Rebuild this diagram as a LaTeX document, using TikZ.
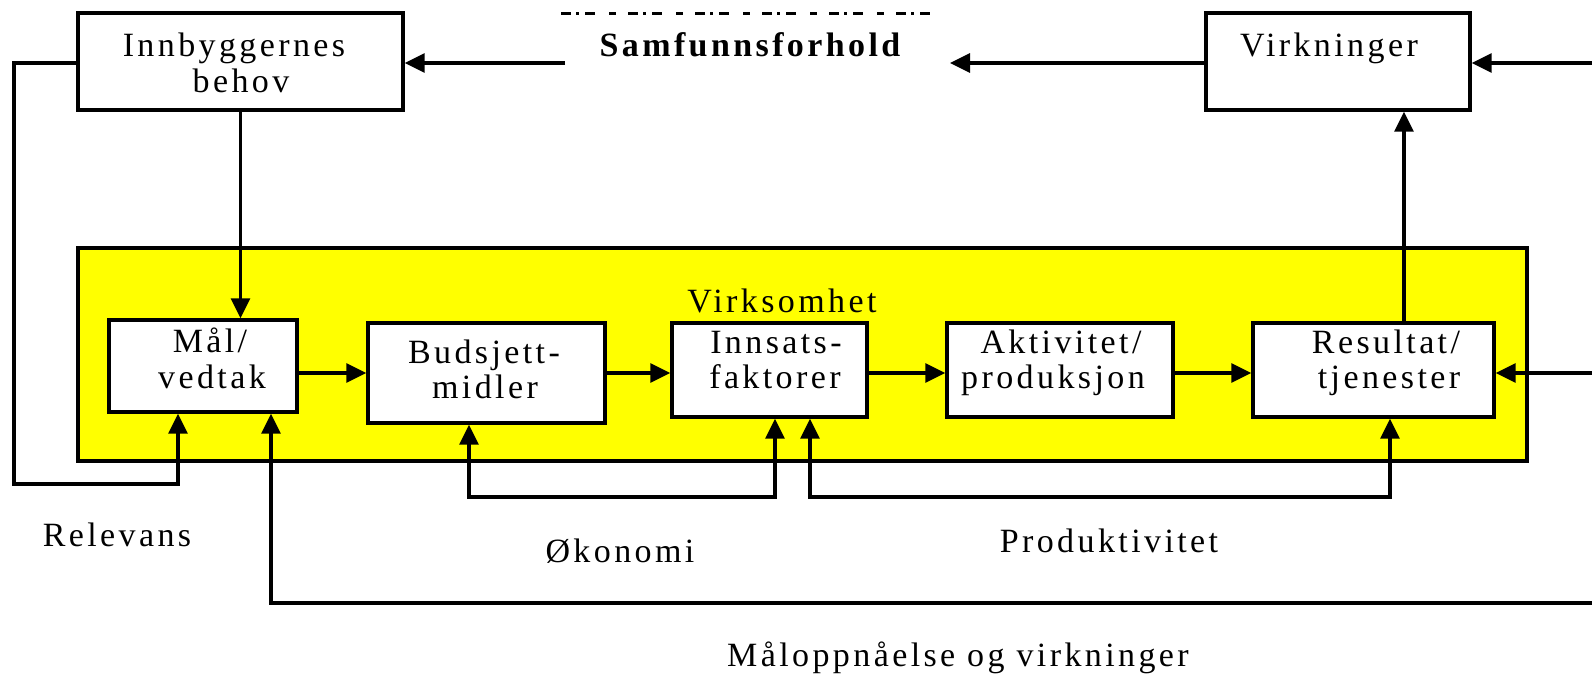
\documentclass[tikz,border=0pt]{standalone}
\usepackage{fontspec}
\setmainfont{Liberation Serif}[LetterSpace=10]
\usetikzlibrary{arrows.meta}
\definecolor{vyellow}{RGB}{255,255,0}
\begin{document}
\begin{tikzpicture}[x=1pt,y=-1pt,
  box/.style={draw, line width=3.4pt, fill=white, inner sep=0pt},
  conn/.style={line width=3.2pt},
  arr/.style={conn, -{Triangle[length=20pt,width=19pt]}},
  arrs/.style={conn, {Triangle[length=20pt,width=19pt]}-{Triangle[length=20pt,width=19pt]}},
  lbl/.style={anchor=base, inner sep=0pt, font=\fontsize{34}{40}\selectfont}]
\useasboundingbox (0,0) rectangle (1592,675);
% yellow frame
\node[box, fill=vyellow, minimum width=1449pt, minimum height=213pt] (virk) at (802.5,354.5) {};
% boxes
\node[box, minimum width=325pt, minimum height=97pt] (inn) at (240.5,61.5) {};
\node[box, minimum width=264pt, minimum height=97pt] (vir) at (1338,61.5) {};
\node[box, minimum width=188pt, minimum height=92pt] (mal) at (203,366) {};
\node[box, minimum width=237pt, minimum height=100pt] (bud) at (486.5,373) {};
\node[box, minimum width=195pt, minimum height=94pt] (ins) at (769.5,370) {};
\node[box, minimum width=226pt, minimum height=94pt] (akt) at (1060,370) {};
\node[box, minimum width=241pt, minimum height=94pt] (res) at (1373.5,370) {};
% texts
\node[lbl] (tinn1) at (234,56) {Innbyggernes};
\node[lbl] (tinn2) at (241,92) {behov};
\node[lbl, font=\fontsize{34}{40}\selectfont\bfseries] (samf) at (750,56) {Samfunnsforhold};
\node[lbl] (tvir) at (1329,56) {Virkninger};
\node[lbl] (tvirk) at (782,312) {Virksomhet};
\node[lbl] (tmal1) at (210,352) {Mål/};
\node[lbl] (tmal2) at (212,388) {vedtak};
\node[lbl] (tbud1) at (484,363) {Budsjett-};
\node[lbl] (tbud2) at (485,398) {midler};
\node[lbl] (tins1) at (776,353) {Innsats-};
\node[lbl] (tins2) at (775,388) {faktorer};
\node[lbl] (takt1) at (1061,353) {Aktivitet/};
\node[lbl] (takt2) at (1053,388) {produksjon};
\node[lbl] (tres1) at (1386,353) {Resultat/};
\node[lbl] (tres2) at (1389,388) {tjenester};
\node[lbl] (trel) at (117,546) {Relevans};
\node[lbl] (tok) at (620,562) {Økonomi};
\node[lbl] (tprod) at (1109,552) {Produktivitet};
\node[lbl] (tmaal) at (958,666) {Måloppnåelse og virkninger};
% coordinates
\coordinate (sL) at (565,63);
\coordinate (sR) at (950,63);
\coordinate (eV) at (1592,63);
\coordinate (eR) at (1592,373);
\coordinate (eM) at (1592,603);
\coordinate (row) at (0,373);
\coordinate (rl) at (14,484);
\coordinate (ok) at (620,497);
\coordinate (pk) at (1100,497);
\coordinate (d1) at (561,13);
\coordinate (d2) at (938,13);
% top dashed fragment
\draw[line width=3pt, dash pattern=on 10pt off 5pt on 3pt off 6pt on 10pt off 14pt on 7pt off 12pt] (d1) -- (d2);
% connectors
\draw[arr] (sL) -- (sL -| inn.east);
\draw[arr] (vir.west |- sR) -- (sR);
\draw[arr] (eV) -- (eV -| vir.east);
\draw[arr] (inn.south) -- (inn.south |- mal.north);
\draw[arr] (mal.east |- row) -- (bud.west |- row);
\draw[arr] (bud.east |- row) -- (ins.west |- row);
\draw[arr] (ins.east |- row) -- (akt.west |- row);
\draw[arr] (akt.east |- row) -- (res.west |- row);
\draw[arr] ([xshift=30.5pt]res.north) -- ([xshift=66pt]vir.south);
\draw[arr] (eR) -- (eR -| res.east);
\draw[arr] (inn.west |- sL) -| (rl) -| ([xshift=-25pt]mal.south);
\draw[arr] (eM) -| ([xshift=68pt]mal.south);
\draw[arrs] ([xshift=-17.5pt]bud.south) |- (ok) -| ([xshift=5.5pt]ins.south);
\draw[arrs] ([xshift=40.5pt]ins.south) |- (pk) -| ([xshift=16.5pt]res.south);
\end{tikzpicture}
\end{document}
